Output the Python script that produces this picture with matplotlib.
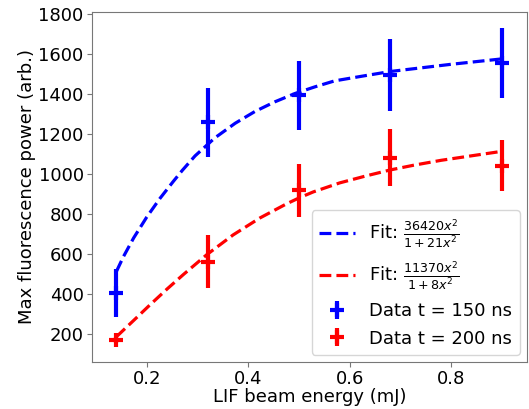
import numpy as np
import matplotlib
matplotlib.use('Agg')
import matplotlib.pyplot as plt

# measured points
energy = [0.14, 0.32, 0.50, 0.68, 0.90]
p150 = [405, 1258, 1393, 1495, 1553]
e150 = [118, 172, 172, 180, 175]
p200 = [170, 562, 918, 1080, 1042]
e200 = [15, 133, 133, 142, 126]

# fit curves as drawn
fit150_x = [0.14, 0.148, 0.154, 0.174, 0.20, 0.226, 0.252, 0.27, 0.295, 0.334, 0.374,
            0.413, 0.452, 0.492, 0.531, 0.57, 0.623, 0.68, 0.80, 0.90]
fit150_y = [512, 555, 587, 680, 785, 878, 962, 1018, 1090, 1180, 1253,
            1312, 1360, 1402, 1435, 1465, 1488, 1512, 1548, 1575]
fit200_x = [0.14, 0.175, 0.206, 0.24, 0.272, 0.318, 0.37, 0.423, 0.475,
            0.50, 0.528, 0.58, 0.632, 0.68, 0.725, 0.78, 0.90]
fit200_y = [186, 270, 345, 425, 497, 596, 695, 780, 850,
            880, 910, 955, 990, 1020, 1043, 1068, 1113]

lab150 = r'Fit: $\frac{36420x^2}{1+21x^2}$'
lab200 = r'Fit: $\frac{11370x^2}{1+8x^2}$'

fig = plt.figure(figsize=(5.29, 4.09), dpi=100)
ax = fig.add_axes([0.174, 0.115, 0.822, 0.856])

ax.plot(fit150_x, fit150_y, '--', color='blue', lw=2.3, label=lab150)
ax.plot(fit200_x, fit200_y, '--', color='red', lw=2.3, label=lab200)
ax.errorbar(energy, p150, yerr=e150, fmt='+', color='blue', ms=10, mew=3,
            elinewidth=3, label='Data t = 150 ns')
ax.errorbar(energy, p200, yerr=e200, fmt='+', color='red', ms=10, mew=3,
            elinewidth=3, label='Data t = 200 ns')

ax.set_xlim(0.092, 0.949)
ax.set_ylim(60, 1810)
ax.set_xticks([0.2, 0.4, 0.6, 0.8])
ax.set_yticks(np.arange(200, 1801, 200))
ax.tick_params(labelsize=13, color='#777777', pad=2.5)
for s in ax.spines.values():
    s.set_color('#777777')
ax.set_xlabel('LIF beam energy (mJ)', fontsize=13, labelpad=0)
ax.set_ylabel('Max fluorescence power (arb.)', fontsize=13, labelpad=2)
ax.legend(loc='lower right', fontsize=13, borderaxespad=0.4)

fig.savefig('out.png', dpi=100)
